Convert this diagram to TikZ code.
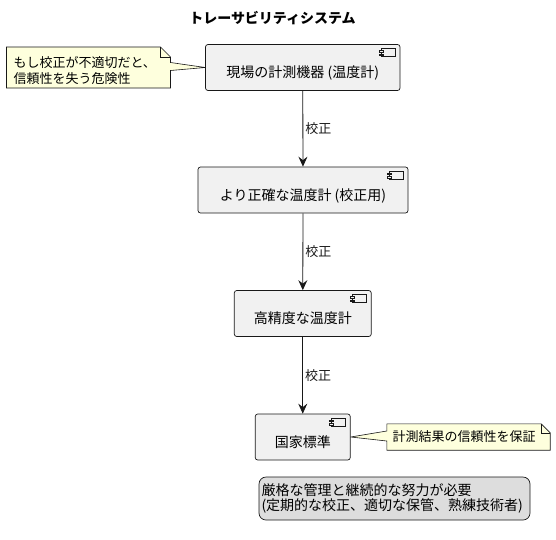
\documentclass[tikz,border=0pt]{standalone}
\usepackage{fontspec}
\setmainfont{Noto Sans CJK JP}
\usepackage{tikz}
\usetikzlibrary{arrows.meta, positioning, calc, backgrounds}
\definecolor{tsLine}{HTML}{181818}
\definecolor{tsBox}{HTML}{F1F1F1}
\definecolor{tsNote}{HTML}{FEFFDD}
\definecolor{tsPanel}{HTML}{DDDDDD}
\newcommand{\tsTight}{\lineskiplimit=-20pt\relax}
\tikzset{
  tsnode/.style={rectangle, rounded corners=2.5pt, draw=tsLine, line width=0.7pt,
                 fill=tsBox, text=black, font=\fontsize{14}{16}\selectfont, align=center,
                 minimum height=46pt, text height=20pt, text depth=0pt, inner sep=0pt,
                 path picture={
                   \draw[sharp corners, tsLine, line width=0.5pt, fill=tsBox]
                     ([xshift=-19pt,yshift=-4pt]path picture bounding box.north east) rectangle ++(14pt,-8pt);
                   \draw[sharp corners, tsLine, line width=0.5pt, fill=tsBox]
                     ([xshift=-21pt,yshift=-6pt]path picture bounding box.north east) rectangle ++(4pt,-1.5pt);
                   \draw[sharp corners, tsLine, line width=0.5pt, fill=tsBox]
                     ([xshift=-21pt,yshift=-9.3pt]path picture bounding box.north east) rectangle ++(4pt,-1.5pt);
                 }},
  tsflow/.style={-{Stealth[length=10pt, width=9pt, inset=3.5pt]}, line width=0.8pt, color=tsLine},
}

\begin{document}
\begin{tikzpicture}[x=1pt, y=-1pt,
  note/.style={rectangle, inner sep=0pt, align=left,
               font=\fontsize{13}{16}\selectfont\tsTight},
  tag/.style={right, font=\fontsize{13}{15}\selectfont, inner xsep=2pt},
  outline/.style={draw=tsLine, line width=0.6pt, fill=tsNote}]
  \useasboundingbox (0,0) rectangle (556,539);
  \node[font=\bfseries\fontsize{14}{16}\selectfont] (title) at (272.5,18) {トレーサビリティシステム};

  % 計測器の連鎖
  \node[tsnode, minimum width=194.5pt] (field) at (302.75,67.5) {現場の計測機器 (温度計)};
  \node[tsnode, minimum width=210pt] (ref) at (303,190) {より正確な温度計 (校正用)};
  \node[tsnode, minimum width=137pt] (prec) at (302.75,313.5) {高精度な温度計};
  \node[tsnode, minimum width=95pt] (nat) at (302.75,437) {国家標準};

  \draw[tsflow] (field) -- node[tag]{校正} (ref);
  \draw[tsflow] (ref) -- node[tag]{校正} (prec);
  \draw[tsflow] (prec) -- node[tag]{校正} (nat);

  % 注記
  \node[note, text width=150pt] (risk) at (88.5,70.5)
    {もし校正が不適切だと、\\信頼性を失う危険性};
  \node[note, minimum width=163pt, minimum height=26pt, text width=152pt] (trust) at (468.5,437)
    {計測結果の信頼性を保証};
  \begin{scope}[on background layer]
    \draw[outline] (6.5,47) -- (160.5,47) -- (170.5,57) -- (170.5,62.5) -- (field.west)
      -- (170.5,70.5) -- (170.5,88) -- (6.5,88) -- cycle;
    \draw[tsLine, line width=0.6pt] (160.5,47) -- (160.5,57) -- (170.5,57);
    \draw[outline] (trust.north west) -- ([xshift=-9pt]trust.north east) -- ([yshift=-9pt]trust.north east)
      -- (trust.south east) -- (trust.south west) -- ($(trust.west)+(0,-4pt)$) -- (nat.east)
      -- ($(trust.west)+(0,6pt)$) -- cycle;
    \draw[tsLine, line width=0.6pt] ([xshift=-9pt]trust.north east) -- ([xshift=-9pt,yshift=-9pt]trust.north east)
      -- ([yshift=-9pt]trust.north east);
  \end{scope}

  % まとめ
  \node[rectangle, rounded corners=7pt, draw=tsLine, line width=0.7pt, fill=tsPanel,
        minimum width=271pt, minimum height=43pt, text width=266pt, inner sep=0pt, align=left,
        font=\fontsize{14}{15}\selectfont\tsTight] (sum) at (394.5,498.5)
    {厳格な管理と継続的な努力が必要\\(定期的な校正、適切な保管、熟練技術者)};
\end{tikzpicture}
\end{document}
